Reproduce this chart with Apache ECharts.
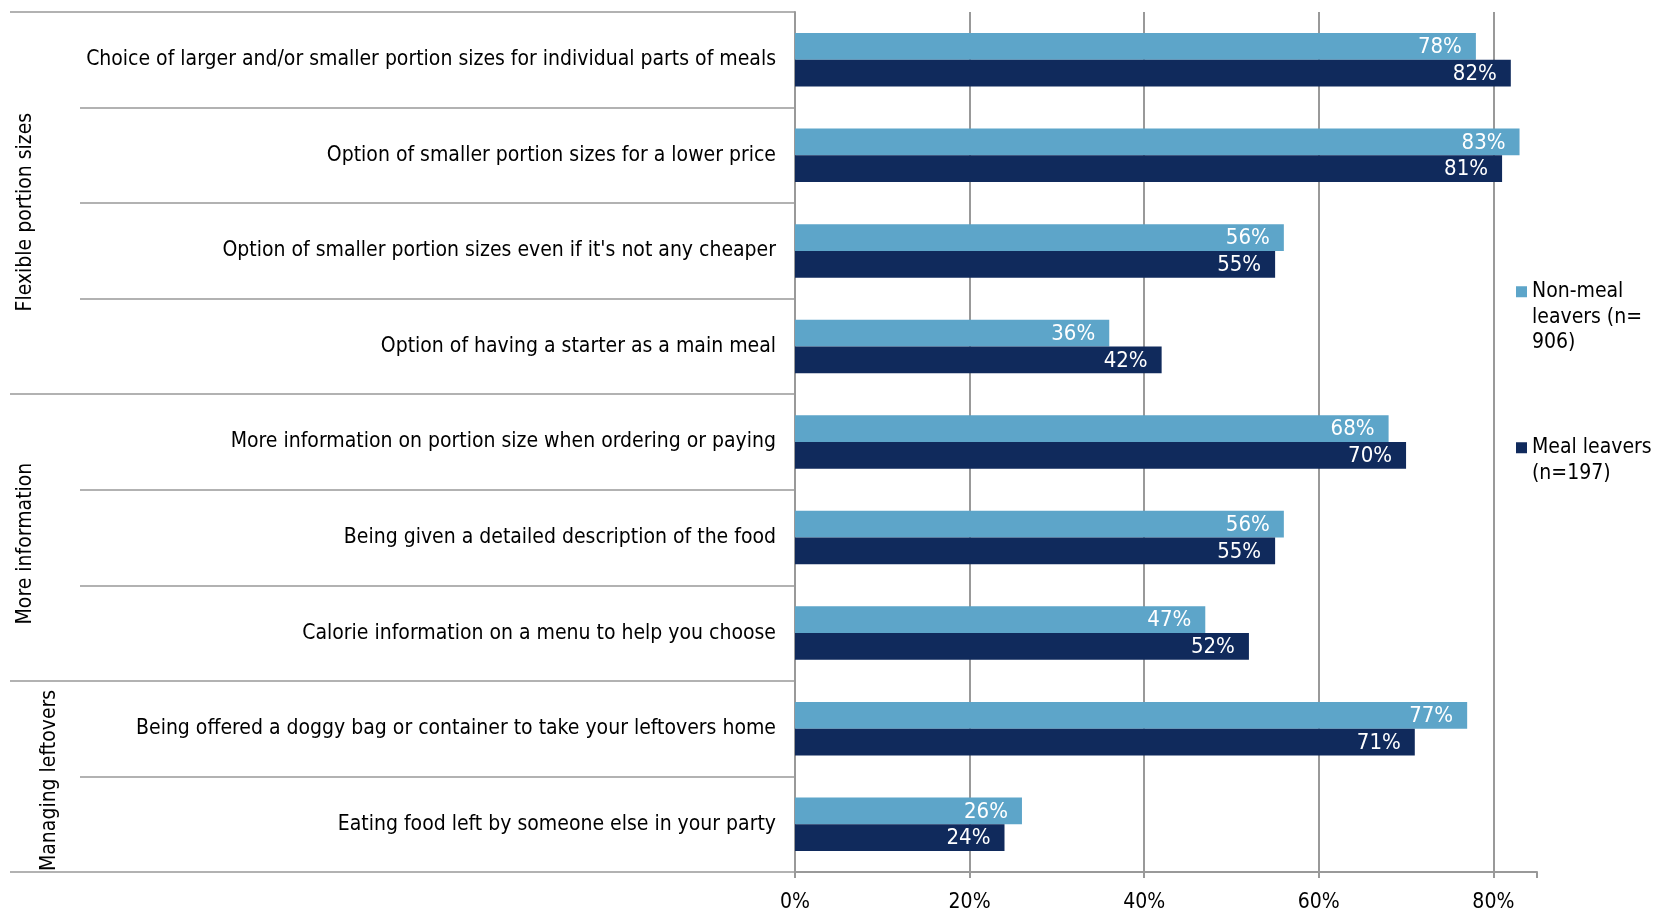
<!DOCTYPE html>
<html>
<head>
<meta charset="utf-8">
<script src="https://cdn.jsdelivr.net/npm/echarts@6/dist/echarts.min.js"></script>
<style>
  html, body { margin: 0; padding: 0; background: #fff; }
  #chart { width: 1657px; height: 913px; }
</style>
</head>
<body>
<div id="chart"></div>
<script>
const categories = [
  'Choice of larger and/or smaller portion sizes for individual parts of meals',
  'Option of smaller portion sizes for a lower price',
  "Option of smaller portion sizes even if it's not any cheaper",
  'Option of having a starter as a main meal',
  'More information on portion size when ordering or paying',
  'Being given a detailed description of the food',
  'Calorie information on a menu to help you choose',
  'Being offered a doggy bag or container to take your leftovers home',
  'Eating food left by someone else in your party'
]
const nonMealLeavers = [78, 83, 56, 36, 68, 56, 47, 77, 26]
const mealLeavers = [82, 81, 55, 42, 70, 55, 52, 71, 24]
const groupNames = ['Flexible portion sizes', 'More information', 'Managing leftovers']
const groupSizes = [4, 3, 2]
const xTicks = [0, 20, 40, 60, 80]

const FONT = '"DejaVu Sans Condensed", "DejaVu Sans", sans-serif'
const LINE = '#999'

// first category index of every group
let groupStarts = []
let acc = 0
groupSizes.forEach(n => { groupStarts.push(acc); acc += n })

let myChart = echarts.init(document.getElementById('chart'))
myChart.setOption({
  animation: false,
  textStyle: { fontFamily: FONT },
  grid: {
    left: 795,
    top: 12,
    width: 742,
    height: 860
  },
  legend: {
    orient: 'vertical',
    left: 1511,
    top: 223,
    itemWidth: 11,
    itemHeight: 11,
    itemGap: 54,
    icon: 'rect',
    textStyle: {
      fontFamily: FONT,
      fontSize: 21,
      lineHeight: 25.5,
      color: '#000'
    },
    formatter: function (name) {
      if (name === 'Non-meal leavers (n=906)') return '\n\nNon-meal\nleavers (n=\n906)'
      return '\nMeal leavers\n(n=197)'
    }
  },
  xAxis: {
    type: 'value',
    min: 0,
    max: 85,
    interval: 20,
    axisLabel: {
      color: '#000',
      fontFamily: FONT,
      fontSize: 21,
      margin: 20,
      formatter: function (v) {
        return xTicks.indexOf(v) >= 0 ? v + '%' : ''
      }
    },
    axisTick: {
      show: true,
      length: 6,
      lineStyle: { color: LINE, width: 2 }
    },
    axisLine: {
      show: true,
      lineStyle: { color: LINE, width: 2 }
    },
    splitLine: {
      show: true,
      lineStyle: {
        color: [LINE, LINE, LINE, LINE, LINE, 'rgba(0,0,0,0)'],
        width: 2
      }
    }
  },
  yAxis: [{
    type: 'category',
    inverse: true,
    data: categories,
    axisLabel: {
      color: '#000',
      fontFamily: FONT,
      fontSize: 21,
      margin: 19,
      padding: [3, 0, 0, 0]
    },
    axisTick: {
      show: true,
      interval: 0,
      length: 715,
      lineStyle: { color: LINE, width: 1.5 }
    },
    axisLine: {
      show: true,
      lineStyle: { color: LINE, width: 2 }
    }
  }, {
    type: 'category',
    inverse: true,
    position: 'left',
    data: categories,
    axisLabel: { show: false },
    axisLine: { show: false },
    axisTick: {
      show: true,
      interval: function (index) {
        return groupStarts.indexOf(index) >= 0
      },
      length: 785,
      lineStyle: { color: LINE, width: 1.5 }
    }
  }],
  series: [{
    type: 'bar',
    name: 'Non-meal leavers (n=906)',
    data: nonMealLeavers,
    barGap: 0,
    barCategoryGap: '44%',
    itemStyle: { color: '#5da5c9' },
    label: {
      show: true,
      position: 'insideRight',
      distance: 14,
      offset: [0, 1],
      color: '#fff',
      fontFamily: FONT,
      fontSize: 22,
      formatter: '{c}%'
    }
  }, {
    type: 'bar',
    name: 'Meal leavers (n=197)',
    data: mealLeavers,
    barGap: 0,
    barCategoryGap: '44%',
    itemStyle: { color: '#102a5c' },
    label: {
      show: true,
      position: 'insideRight',
      distance: 14,
      offset: [0, 1],
      color: '#fff',
      fontFamily: FONT,
      fontSize: 22,
      formatter: '{c}%'
    }
  }]
})

// rotated group labels, centred on their category bands
let groupX = [26, 26, 50]
let groupShift = [9, 6, 4]
let graphics = groupNames.map(function (name, i) {
  let first = categories[groupStarts[i]]
  let last = categories[groupStarts[i] + groupSizes[i] - 1]
  let y0 = myChart.convertToPixel({ yAxisIndex: 0 }, first)
  let y1 = myChart.convertToPixel({ yAxisIndex: 0 }, last)
  return {
    type: 'text',
    x: groupX[i],
    y: (y0 + y1) / 2 + groupShift[i],
    rotation: Math.PI / 2,
    style: {
      text: name,
      fontFamily: FONT,
      fontSize: 21,
      fill: '#000',
      align: 'center',
      verticalAlign: 'middle'
    }
  }
})
myChart.setOption({ graphic: graphics })
</script>
</body>
</html>
